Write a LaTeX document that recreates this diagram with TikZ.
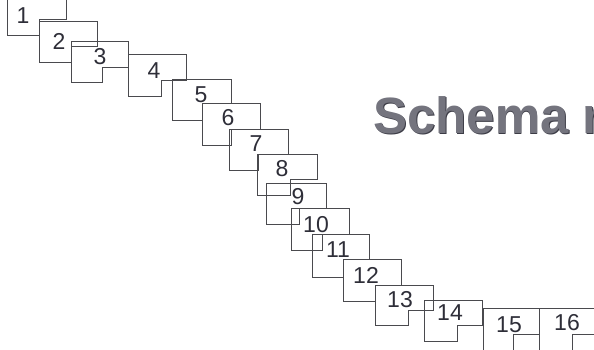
\documentclass[tikz,border=0pt]{standalone}
\usepackage{fontspec}
\setmainfont{Liberation Sans}
\usepackage{tikz}
\definecolor{StepLine}{HTML}{4A4A4E}
\definecolor{StepText}{HTML}{2E2E38}
\definecolor{TitleGray}{HTML}{74747E}
\definecolor{TitleEdge}{HTML}{3C3C46}
\tikzset{
 step shape/.style={draw=StepLine,line width=.9pt,line join=miter},
 step num/.style={inner sep=0pt,outer sep=0pt,text=StepText,
                  font=\fontsize{23}{23}\selectfont},
 title text/.style={inner sep=0pt,anchor=base west,
                    font=\fontsize{51}{51}\selectfont\bfseries}
}

\begin{document}
\begin{tikzpicture}[x=1pt,y=-1pt]
 \useasboundingbox (0,0) rectangle (594,349);
 \clip (0,0) rectangle (594,349);
 % cascade of stepped boxes: left/top/right/bottom, notch corner
 \foreach \i/\l/\t/\r/\b/\nx/\ny in {
   1/7/-6/66/35/39/19,
   2/39/21/97/62/71/46,
   3/71/41/128/82/102/67,
   4/128/54/186/96/161/80,
   5/172/79/231/120/202/103,
   6/202/103/260/145/231/129,
   7/229/129/288/170/258/154,
   8/257/154/317/195/290/179,
   9/266/183/326/224/299/208,
   10/291/208/349/250/322/234,
   11/312/234/369/277/343/259,
   12/343/259/401/301/375/285,
   13/375/285/433/325/408/310,
   14/424/300/482/341/457/325,
   15/483/308/539/360/513/334,
   16/539/308/600/360/572/334}{
   \draw[step shape] (\l,\t)--(\r,\t)--(\r,\ny)--(\nx,\ny)--(\nx,\b)--(\l,\b)--cycle;
 }
 \foreach \i/\x/\y in {1/23/16,2/59/41,3/100/57,4/154/71,5/201/95,6/228/118,
                       7/256/144,8/282/169,9/298/197,10/316/225,11/338/250,
                       12/366/275,13/400/300,14/450/313,15/509/325,16/567/323}{
   \node[step num] (n\i) at (\x,\y) {\i};
 }
 % title, cut at the right edge
 \node[title text,text=TitleEdge] (titleshadow) at (373.8,134.2) {Schema r};
 \node[title text,text=TitleGray] (title) at (373,133) {Schema r};
\end{tikzpicture}
\end{document}
